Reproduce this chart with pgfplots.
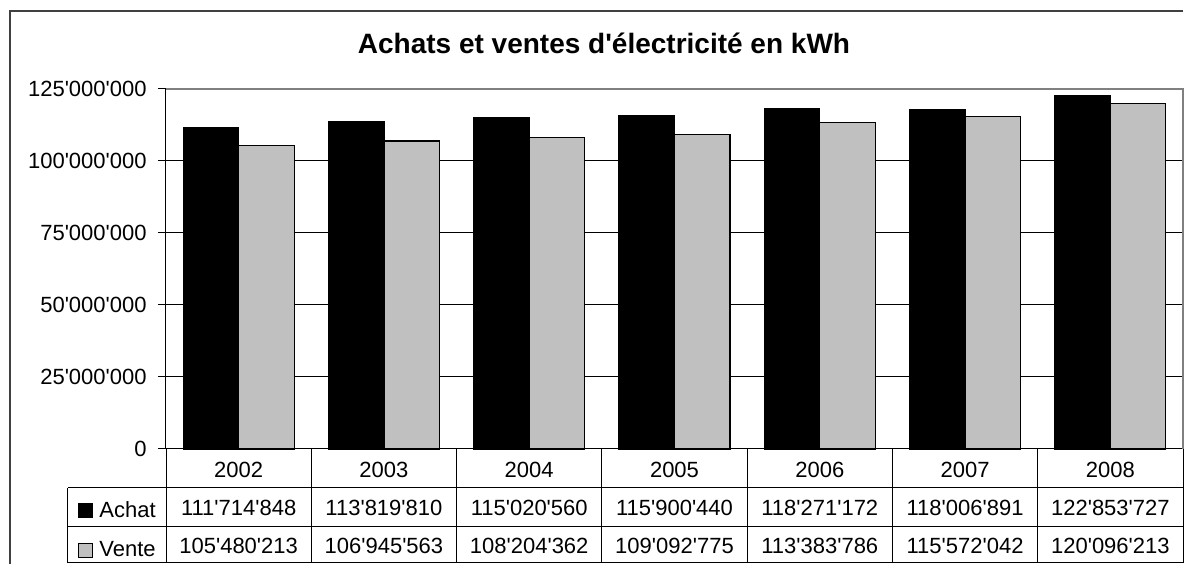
\documentclass[border=0pt]{standalone}
\usepackage{pgfplots}
\pgfplotsset{compat=1.18}
\usepackage{fontspec}
\newfontfamily\arial{Liberation Sans}
\definecolor{vente}{RGB}{192,192,192}
\definecolor{cadre}{RGB}{128,128,128}
\begin{document}
\begin{tikzpicture}[font=\arial\fontsize{11}{19}\selectfont]
\begin{axis}[
  scale only axis, width=508.5pt, height=180pt,
  clip=false,
  ybar=0pt, bar width=27.75pt,
  xmin=-0.5, xmax=6.5, ymin=0, ymax=125000000,
  axis x line=bottom, axis y line=left, axis line style={-, black, line width=0.5pt},
  xtick={0,...,6},
  xticklabels={
    {2002\\111'714'848\\105'480'213},
    {2003\\113'819'810\\106'945'563},
    {2004\\115'020'560\\108'204'362},
    {2005\\115'900'440\\109'092'775},
    {2006\\118'271'172\\113'383'786},
    {2007\\118'006'891\\115'572'042},
    {2008\\122'853'727\\120'096'213}},
  x tick label style={font=\arial\fontsize{11}{19}\selectfont, align=center, inner sep=0pt, anchor=north, yshift=-2.5pt},
  major x tick style={draw=none},
  ytick={0,25000000,50000000,75000000,100000000,125000000},
  scaled y ticks=false,
  y tick label style={font=\arial\fontsize{11}{13}\selectfont, inner sep=0pt, anchor=east, xshift=-5.5pt},
  yticklabel={\pgfmathprintnumber[fixed, precision=0, 1000 sep={'}, assume math mode=true]{\tick}},
  tick align=outside, major tick length=4pt,
  y tick style={black, line width=0.5pt},
  ymajorgrids, major grid style={black, line width=0.5pt},
  title={Achats et ventes d'électricité en kWh},
  title style={font=\arial\bfseries\fontsize{14}{17}\selectfont, at={(0.4307,1)}, anchor=base, yshift=11.5pt},
  legend style={draw=none, fill=none, inner sep=0pt, row sep=6.75pt, column sep=1pt,
    font=\arial\fontsize{11}{13}\selectfont, at={(-0.0865,-0.2261)}, anchor=west},
  legend cell align=left,
]
\addplot[fill=black, draw=black, line width=0.6pt,
  legend image code/.code={\draw[fill=black, draw=black, line width=0.5pt] (0pt,-3.5pt) rectangle (7pt,3.5pt);}]
  coordinates {(0,111714848) (1,113819810) (2,115020560) (3,115900440) (4,118271172) (5,118006891) (6,122853727)};
\addplot[fill=vente, draw=black, line width=0.6pt,
  legend image code/.code={\draw[fill=vente, draw=black, line width=0.5pt] (0pt,-3.5pt) rectangle (7pt,3.5pt);}]
  coordinates {(0,105480213) (1,106945563) (2,108204362) (3,109092775) (4,113383786) (5,115572042) (6,120096213)};
\legend{Achat, Vente}
\end{axis}
\begin{scope}[x=1pt, y=1pt]
  \path[use as bounding box] (-83,-61) rectangle (510.5,224.5);
  \draw[black!75, line width=0.75pt] (-78,-57.5) -- (-78,219) -- (508.5,219);
  \draw[cadre, line width=0.75pt] (0,180) -- (508.5,180) -- (508.5,0);
  \draw[black, line width=0.5pt] (-49,-19.5) -- (508.5,-19.5)
    (-49,-39) -- (508.5,-39) (-49,-57) -- (508.5,-57) (-49,-19.5) -- (-49,-57);
  \foreach \k in {0,...,7} {\draw[black, line width=0.5pt] ({\k*72.643},0) -- ({\k*72.643},-57);}
\end{scope}
\end{tikzpicture}
\end{document}
